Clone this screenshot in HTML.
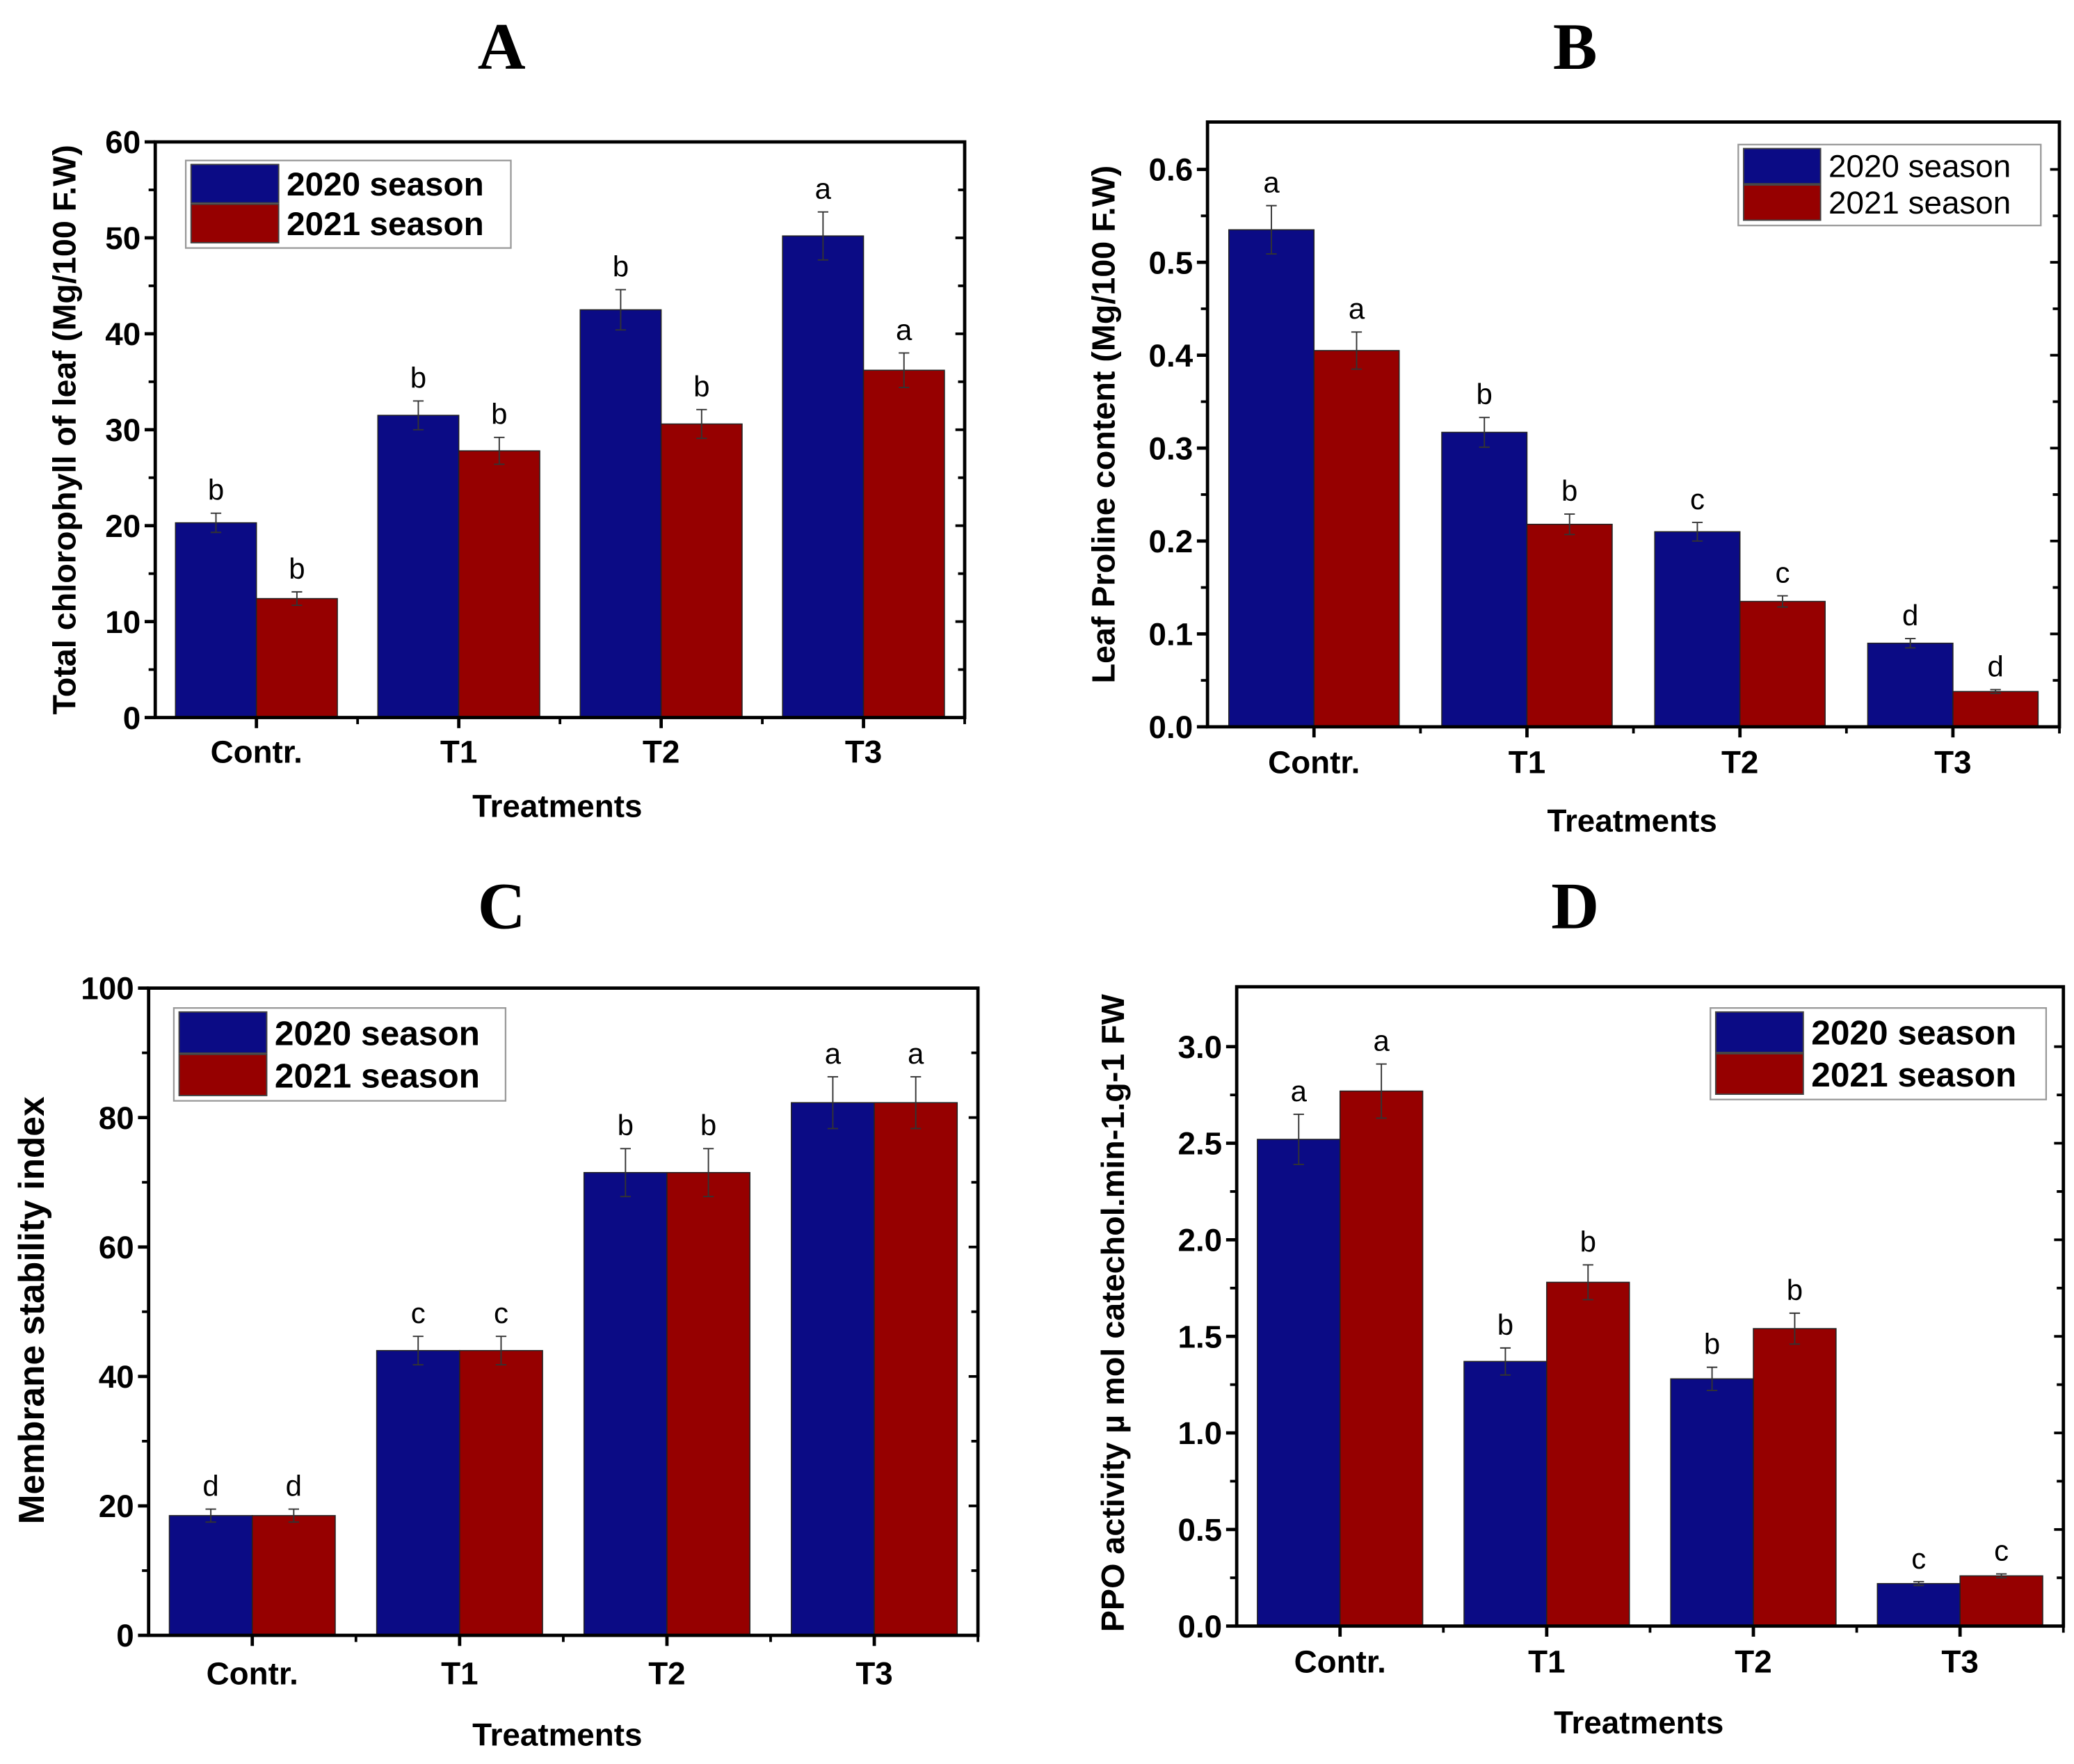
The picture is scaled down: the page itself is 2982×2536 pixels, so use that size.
<!DOCTYPE html>
<html><head><meta charset="utf-8">
<style>
html,body{margin:0;padding:0;background:#fff;}
svg{display:block;}
text{font-family:"Liberation Sans",Arial,sans-serif;}
</style></head>
<body>
<svg id="fig" width="2982" height="2536" viewBox="0 0 1563 1330" preserveAspectRatio="none" xmlns="http://www.w3.org/2000/svg">
<rect x="0" y="0" width="1563" height="1330" fill="#fff"/>
</svg>
<script>
// ---- Panel A data ----
const categoriesA = ["Contr.", "T1", "T2", "T3"];
const season2020A = [20.3, 31.5, 42.5, 50.2];
const season2021A = [12.4, 27.8, 30.6, 36.2];
const err2020A = [1.0, 1.5, 2.1, 2.5];
const err2021A = [0.7, 1.4, 1.5, 1.8];
const letters2020A = ["b", "b", "b", "a"];
const letters2021A = ["b", "b", "b", "a"];
const ticksA = [0, 10, 20, 30, 40, 50, 60];
// ---- Panel B data ----
const categoriesB = ["Contr.", "T1", "T2", "T3"];
const season2020B = [0.535, 0.317, 0.210, 0.090];
const season2021B = [0.405, 0.218, 0.135, 0.038];
const err2020B = [0.026, 0.016, 0.010, 0.005];
const err2021B = [0.020, 0.011, 0.006, 0.002];
const letters2020B = ["a", "b", "c", "d"];
const letters2021B = ["a", "b", "c", "d"];
const ticksB = [0.0, 0.1, 0.2, 0.3, 0.4, 0.5, 0.6];
// ---- Panel C data ----
const categoriesC = ["Contr.", "T1", "T2", "T3"];
const season2020C = [18.5, 44.0, 71.5, 82.3];
const season2021C = [18.5, 44.0, 71.5, 82.3];
const err2020C = [1.0, 2.2, 3.7, 4.0];
const err2021C = [1.0, 2.2, 3.7, 4.0];
const letters2020C = ["d", "c", "b", "a"];
const letters2021C = ["d", "c", "b", "a"];
const ticksC = [0, 20, 40, 60, 80, 100];
// ---- Panel D data ----
const categoriesD = ["Contr.", "T1", "T2", "T3"];
const season2020D = [2.52, 1.37, 1.28, 0.22];
const season2021D = [2.77, 1.78, 1.54, 0.26];
const err2020D = [0.13, 0.07, 0.06, 0.01];
const err2021D = [0.14, 0.09, 0.08, 0.01];
const letters2020D = ["a", "b", "b", "c"];
const letters2021D = ["a", "b", "b", "c"];
const ticksD = [0.0, 0.5, 1.0, 1.5, 2.0, 2.5, 3.0];

const NS = "http://www.w3.org/2000/svg";
const svg = document.getElementById("fig");
const BLUE = "#0b0b85", RED = "#960000";

function mk(tag, attrs, parent, text) {
  const e = document.createElementNS(NS, tag);
  for (const k in attrs) e.setAttribute(k, attrs[k]);
  if (text !== undefined) e.textContent = text;
  (parent || svg).appendChild(e);
  return e;
}

function panel(cfg) {
  const g = mk("g", {});
  
  
  const L = cfg.left, R = cfg.right, T = cfg.top, B = cfg.bottom;
  const y = v => B - (v - cfg.ymin) / (cfg.ymax - cfg.ymin) * (B - T);
  const unit = (R - L) / cfg.cats.length;
  const x = i => L + unit * (i + 0.5);
  const bw = unit * cfg.barFrac / 2;

  const t = mk("text", {x: cfg.titleX, y: cfg.titleY, "text-anchor": "middle", "font-size": 50, "font-weight": "bold", style: 'font-family:"Liberation Serif",serif'}, g, cfg.title);
  
  

  const series = [[cfg.s1, cfg.e1, cfg.l1, BLUE, -1], [cfg.s2, cfg.e2, cfg.l2, RED, 0]];
  series.forEach((s, si) => {
    s[0].forEach((v, i) => {
      const x0 = x(i) + s[4] * bw;
      const r = mk("rect", {x: x0, y: y(v), width: bw, height: y(cfg.ymin) - y(v), fill: s[3], stroke: "#222", "stroke-width": 0.8}, g);
      
      
      const cx = x0 + bw / 2, e = s[1][i];
      const eb = mk("path", {d: `M${cx} ${y(v - e)}V${y(v + e)}M${cx - 4} ${y(v + e)}H${cx + 4}M${cx - 4} ${y(v - e)}H${cx + 4}`, stroke: "#333", "stroke-width": 1, fill: "none"}, g);
      
      
      const lt = mk("text", {x: cx, y: y(v + e) - 10, "text-anchor": "middle", "font-size": 22}, g, s[2][i]);
      
      
    });
  });

  const fr = mk("rect", {x: L, y: T, width: R - L, height: B - T, fill: "none", stroke: "#000", "stroke-width": 2.5}, g);
  
  

  cfg.ticks.forEach((v, k) => {
    mk("line", {x1: L - 8, x2: L, y1: y(v), y2: y(v), stroke: "#000", "stroke-width": 2.5}, g);
    mk("line", {x1: R - 7, x2: R, y1: y(v), y2: y(v), stroke: "#000", "stroke-width": 2}, g);
    const tl = mk("text", {x: L - 11, y: y(v) + 8.5, "text-anchor": "end", "font-size": 24, "font-weight": "bold"}, g, cfg.fmt(v));
    
    
    if (k < cfg.ticks.length - 1) {
      const mv = (v + cfg.ticks[k + 1]) / 2;
      mk("line", {x1: L - 5, x2: L, y1: y(mv), y2: y(mv), stroke: "#000", "stroke-width": 2}, g);
      mk("line", {x1: R - 5, x2: R, y1: y(mv), y2: y(mv), stroke: "#000", "stroke-width": 2}, g);
    }
  });
  cfg.cats.forEach((c, i) => {
    mk("line", {x1: x(i), x2: x(i), y1: B, y2: B + 8, stroke: "#000", "stroke-width": 2.5}, g);
    mk("line", {x1: L + unit * (i + 1), x2: L + unit * (i + 1), y1: B, y2: B + 5, stroke: "#000", "stroke-width": 2}, g);
    const xl = mk("text", {x: x(i), y: B + cfg.xlabOff, "text-anchor": "middle", "font-size": 24, "font-weight": "bold"}, g, c);
    
    
  });
  const xt = mk("text", {x: cfg.xtX, y: cfg.xtY, "text-anchor": "middle", "font-size": 24, "font-weight": "bold"}, g, "Treatments");
  
  
  const yt = mk("text", {x: 0, y: 0, "text-anchor": "middle", "font-size": cfg.ytSize, "font-weight": "bold", transform: `translate(${cfg.ytX},${cfg.ytY}) rotate(-90)`}, g, cfg.ytitle);
  
  

  const lg = mk("g", {}, g);
  
  
  const [lx, ly, lw, lh] = cfg.legend;
  mk("rect", {x: lx, y: ly, width: lw, height: lh, fill: "#fff", stroke: "#999", "stroke-width": 1.2}, lg);
  const sw = cfg.swatchW, rh = (lh - 6) / 2;
  [["2020 season", BLUE], ["2021 season", RED]].forEach((e, k) => {
    const ent = mk("g", {}, lg);
    
    
    mk("rect", {x: lx + 4, y: ly + 3 + k * rh, width: sw, height: rh - 1, fill: e[1], stroke: "#444", "stroke-width": 1}, ent);
    mk("text", {x: lx + sw + 10, y: ly + 3 + k * rh + rh * 0.78, "font-size": cfg.legSize, "font-weight": cfg.legBold ? "bold" : "normal"}, ent, e[0]);
  });
}

panel({name: "panel-a-chlorophyll", title: "A", titleX: 378, titleY: 52,
  left: 117, right: 727, top: 107, bottom: 541, ymin: 0, ymax: 60, barFrac: 0.8,
  cats: categoriesA, s1: season2020A, s2: season2021A, e1: err2020A, e2: err2021A, l1: letters2020A, l2: letters2021A,
  ticks: ticksA, fmt: v => String(v), xlabOff: 34, xtX: 420, xtY: 616,
  ytitle: "Total chlorophyll of leaf (Mg/100 F.W)", ytX: 57, ytY: 324, ytSize: 24.5,
  legend: [140, 121, 245, 66], swatchW: 66, legSize: 25, legBold: true});

panel({name: "panel-b-proline", title: "B", titleX: 1187, titleY: 52,
  left: 910, right: 1552, top: 92, bottom: 548, ymin: 0, ymax: 0.651, barFrac: 0.8,
  cats: categoriesB, s1: season2020B, s2: season2021B, e1: err2020B, e2: err2021B, l1: letters2020B, l2: letters2021B,
  ticks: ticksB, fmt: v => v.toFixed(1), xlabOff: 35, xtX: 1230, xtY: 627,
  ytitle: "Leaf Proline content (Mg/100 F.W)", ytX: 840, ytY: 320, ytSize: 24.5,
  legend: [1310, 109, 228, 61], swatchW: 58, legSize: 24, legBold: false});

panel({name: "panel-c-membrane", title: "C", titleX: 378, titleY: 700,
  left: 112, right: 737, top: 745, bottom: 1233, ymin: 0, ymax: 100, barFrac: 0.8,
  cats: categoriesC, s1: season2020C, s2: season2021C, e1: err2020C, e2: err2021C, l1: letters2020C, l2: letters2021C,
  ticks: ticksC, fmt: v => String(v), xlabOff: 37, xtX: 420, xtY: 1316,
  ytitle: "Membrane stability index", ytX: 33, ytY: 988, ytSize: 27,
  legend: [131, 760, 250, 70], swatchW: 66, legSize: 26, legBold: true});

panel({name: "panel-d-ppo", title: "D", titleX: 1187, titleY: 700,
  left: 932, right: 1555, top: 744, bottom: 1226, ymin: 0, ymax: 3.31, barFrac: 0.8,
  cats: categoriesD, s1: season2020D, s2: season2021D, e1: err2020D, e2: err2021D, l1: letters2020D, l2: letters2021D,
  ticks: ticksD, fmt: v => v.toFixed(1), xlabOff: 35, xtX: 1235, xtY: 1307,
  ytitle: "PPO activity µ mol catechol.min-1.g-1 FW", ytX: 847, ytY: 990, ytSize: 24.5,
  legend: [1289, 760, 253, 69], swatchW: 66, legSize: 26, legBold: true});
</script>
</body></html>
